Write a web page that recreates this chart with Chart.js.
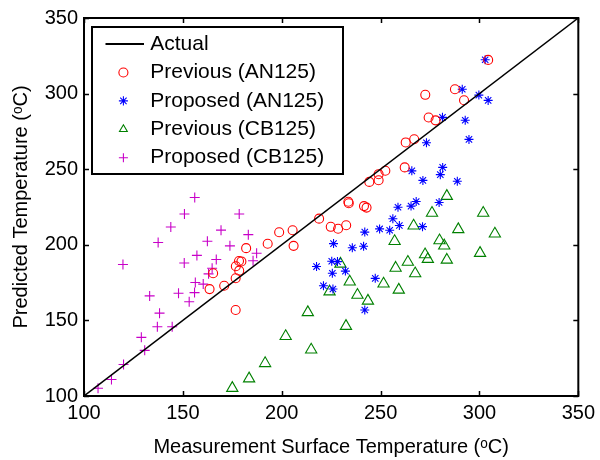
<!DOCTYPE html>
<html>
<head>
<meta charset="utf-8">
<script src="https://cdn.jsdelivr.net/npm/chart.js@4.4.0/dist/chart.umd.min.js"></script>
<style>
  html, body { margin: 0; padding: 0; background: #fff; }
</style>
</head>
<body>
<canvas id="chart" width="600" height="460"></canvas>
<script>
// axis ticks (both axes)
const axisTicks = [100, 150, 200, 250, 300, 350];
const actualX = [100, 350];
const actualY = [100, 350];

// Previous (AN125)
const prevAnX = [304.4, 287.6, 272.6, 292.2, 274.3, 277.8, 262.7, 267.0, 262.2, 252.4, 249.0, 249.0,
    244.3, 233.7, 233.9, 241.6, 242.9, 218.9, 224.8, 228.5, 232.6, 205.5, 198.7, 192.9, 206.0,
    182.0, 178.4, 179.6, 176.8, 178.5, 176.7, 165.3, 170.9, 163.5, 176.7];
const prevAnY = [322.3, 302.9, 299.2, 295.6, 284.2, 282.3, 267.7, 269.8, 251.2, 249.0, 246.7, 242.7,
    241.6, 228.5, 227.5, 225.6, 224.6, 217.3, 211.9, 210.6, 212.9, 209.6, 208.3, 200.7, 199.3,
    197.8, 189.3, 189.0, 185.8, 182.9, 177.9, 181.2, 172.9, 170.7, 156.9];

// Proposed (AN125)
const propAnX = [302.9, 291.3, 299.7, 304.4, 281.3, 292.8, 294.7, 273.2, 281.4, 265.8, 280.2, 271.4,
    288.8, 279.6, 268.0, 265.4, 258.8, 256.2, 259.5, 271.2, 249.5, 254.6, 242.0, 226.2, 235.7,
    241.4, 217.6, 225.3, 228.2, 225.6, 232.2, 221.1, 225.9, 247.3, 242.0];
const propAnY = [322.4, 302.9, 299.0, 295.5, 284.3, 282.4, 269.7, 267.5, 251.2, 248.9, 246.4, 242.6,
    242.0, 228.0, 228.6, 225.6, 224.8, 217.2, 212.8, 212.0, 210.5, 209.6, 208.4, 200.8, 198.0,
    199.0, 185.6, 189.1, 188.9, 181.2, 182.6, 172.9, 170.8, 177.8, 156.9];

// Previous (CB125)
const prevCbX = [283.5, 301.9, 276.0, 266.7, 289.3, 307.8, 257.1, 279.8, 282.2, 300.3, 272.5, 273.9,
    283.5, 263.8, 257.6, 229.7, 267.5, 234.4, 251.5, 224.2, 259.2, 238.3, 243.6, 213.2, 232.5,
    202.0, 214.9, 191.6, 183.5, 175.0];
const prevCbY = [232.2, 221.0, 221.0, 212.6, 210.2, 207.3, 202.3, 202.8, 199.4, 194.5, 193.6, 190.5,
    190.0, 188.6, 184.7, 187.4, 181.0, 175.6, 174.2, 169.0, 170.2, 166.8, 162.9, 155.3, 146.2,
    139.5, 130.6, 121.6, 111.5, 105.2];

// Proposed (CB125)
const propCbX = [156.0, 150.8, 178.5, 143.9, 169.3, 183.1, 137.5, 162.4, 173.8, 187.3, 157.1, 166.9,
    119.7, 150.7, 185.5, 164.8, 163.0, 156.3, 160.3, 155.9, 147.8, 133.2, 153.2, 138.2, 137.1,
    144.6, 129.0, 130.7, 120.0, 113.9, 107.1];
const propCbY = [231.3, 220.4, 220.4, 211.8, 209.7, 206.7, 201.5, 202.3, 199.3, 194.4, 193.0, 190.3,
    187.0, 188.0, 189.5, 184.5, 180.8, 175.1, 174.0, 168.4, 168.0, 166.2, 162.3, 154.8, 145.8,
    145.8, 138.8, 130.2, 120.8, 110.9, 105.1];

const FONT = "'Liberation Sans', Arial, sans-serif";

const toPoints = (xs, ys) => xs.map((x, i) => ({ x: x, y: ys[i] }));

// short black line used as the legend sample for "Actual"
const lineSample = document.createElement('canvas');
lineSample.width = 42;
lineSample.height = 2;
lineSample.getContext('2d').fillRect(0, 0, 42, 2);

const framePlugin = {
    id: 'frame',
    afterLayout(chart) {
        // put the legend box in the upper left corner of the plot
        const lg = chart.legend;
        const ca = chart.chartArea;
        const h = lg.bottom - lg.top;
        lg.left = ca.left + 21.5;
        lg.top = ca.top + 8.2;
        lg.right = lg.left + lg.width;
        lg.bottom = lg.top + h;
    },
    afterDraw(chart) {
        const { ctx, chartArea: ca, scales } = chart;
        ctx.save();
        ctx.strokeStyle = '#000';
        ctx.lineWidth = 1.5;
        // inward ticks on all four sides
        const len = 5;
        ctx.beginPath();
        scales.x.ticks.forEach(t => {
            const px = Math.round(scales.x.getPixelForValue(t.value)) + 0.5;
            ctx.moveTo(px, ca.bottom); ctx.lineTo(px, ca.bottom - len);
            ctx.moveTo(px, ca.top); ctx.lineTo(px, ca.top + len);
        });
        scales.y.ticks.forEach(t => {
            const py = Math.round(scales.y.getPixelForValue(t.value)) + 0.5;
            ctx.moveTo(ca.left, py); ctx.lineTo(ca.left + len, py);
            ctx.moveTo(ca.right, py); ctx.lineTo(ca.right - len, py);
        });
        ctx.stroke();
        // axes box
        ctx.lineWidth = 2;
        ctx.strokeRect(ca.left, ca.top, ca.right - ca.left, ca.bottom - ca.top);
        // legend border
        ctx.strokeRect(ca.left + 8, ca.top + 9, 251, 147);
        ctx.restore();
    }
};

new Chart(document.getElementById('chart'), {
    type: 'scatter',
    data: {
        datasets: [
            {
                label: 'Actual',
                data: toPoints(actualX, actualY),
                showLine: true,
                borderColor: '#000',
                borderWidth: 1.5,
                pointRadius: 0
            },
            {
                label: 'Previous (AN125)',
                data: toPoints(prevAnX, prevAnY),
                pointStyle: 'circle',
                pointRadius: 4.5,
                borderColor: '#ff0000',
                backgroundColor: 'rgba(0,0,0,0)',
                borderWidth: 1.1
            },
            {
                label: 'Proposed (AN125)',
                data: toPoints(propAnX, propAnY),
                pointStyle: 'star',
                pointRadius: 4.5,
                borderColor: '#0000ff',
                backgroundColor: 'rgba(0,0,0,0)',
                borderWidth: 1.1
            },
            {
                label: 'Previous (CB125)',
                data: toPoints(prevCbX, prevCbY),
                pointStyle: 'triangle',
                pointRadius: 6.5,
                borderColor: '#008000',
                backgroundColor: 'rgba(0,0,0,0)',
                borderWidth: 1.1
            },
            {
                label: 'Proposed (CB125)',
                data: toPoints(propCbX, propCbY),
                pointStyle: 'cross',
                pointRadius: 5,
                borderColor: '#c800c8',
                backgroundColor: 'rgba(0,0,0,0)',
                borderWidth: 1.1
            }
        ]
    },
    options: {
        responsive: false,
        animation: false,
        layout: { padding: { top: 15, right: 20, bottom: 0, left: 0 } },
        scales: {
            x: {
                type: 'linear',
                min: 100,
                max: 350,
                afterBuildTicks: (scale) => { scale.ticks = axisTicks.map(v => ({ value: v })); },
                afterFit: (scale) => { scale.height = 64; },
                grid: { display: false, drawTicks: false },
                border: { display: false },
                ticks: { color: '#000', font: { family: FONT, size: 20 }, padding: 5, maxRotation: 0 },
                title: {
                    display: true,
                    text: 'Measurement Surface Temperature (ᵒC)',
                    color: '#000',
                    font: { family: FONT, size: 20 },
                    padding: { top: 0, bottom: 0.5 }
                }
            },
            y: {
                type: 'linear',
                min: 100,
                max: 350,
                afterBuildTicks: (scale) => { scale.ticks = axisTicks.map(v => ({ value: v })); },
                afterFit: (scale) => { scale.width = 84; },
                grid: { display: false, drawTicks: false },
                border: { display: false },
                ticks: { color: '#000', font: { family: FONT, size: 20 }, padding: 6 },
                title: {
                    display: true,
                    text: 'Predicted Temperature (ᵒC)',
                    color: '#000',
                    font: { family: FONT, size: 20 },
                    padding: { top: 9.5, bottom: 0 }
                }
            }
        },
        plugins: {
            tooltip: { enabled: false },
            legend: {
                position: 'chartArea',
                align: 'start',
                labels: {
                    usePointStyle: true,
                    boxHeight: 6.4,
                    padding: 7.4,
                    color: '#000',
                    font: { family: FONT, size: 21 },
                    generateLabels(chart) {
                        const items = Chart.defaults.plugins.legend.labels.generateLabels(chart);
                        items.forEach((it, i) => {
                            it.text = ' ' + it.text;
                            if (i === 0) it.pointStyle = lineSample;
                        });
                        return items;
                    }
                }
            }
        }
    },
    plugins: [framePlugin]
});
</script>
</body>
</html>
